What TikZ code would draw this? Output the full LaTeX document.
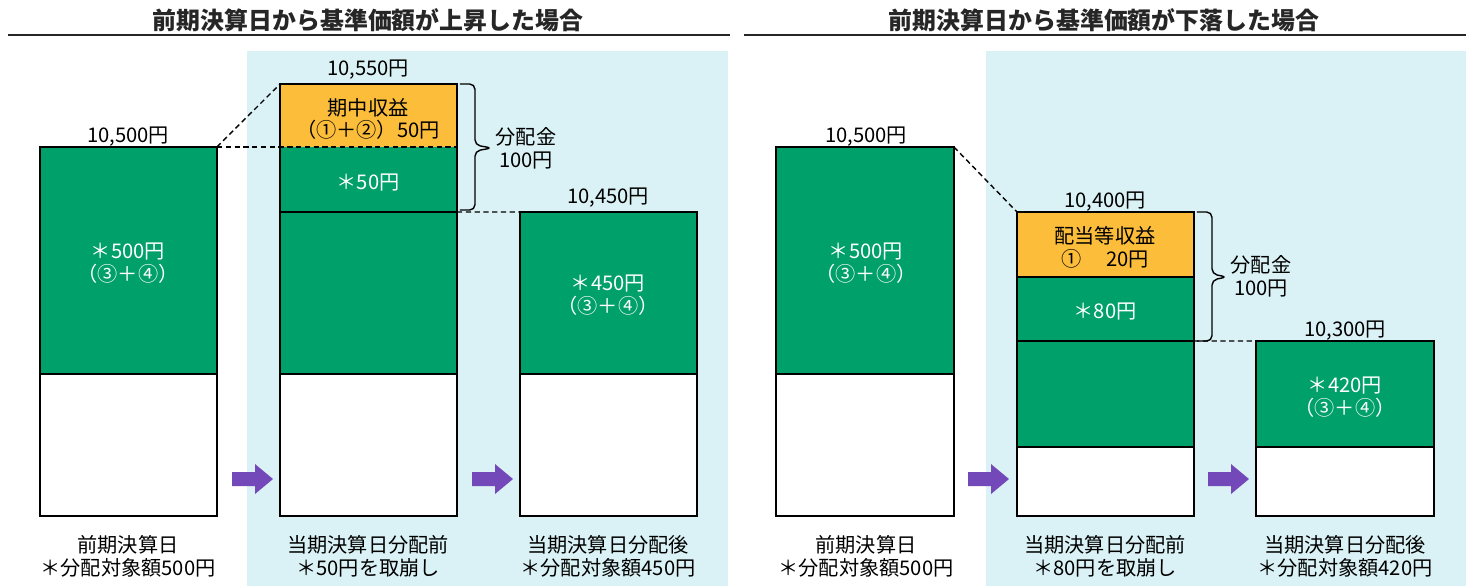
\documentclass[tikz,border=0pt]{standalone}
\usepackage{fontspec}
\setmainfont{Noto Sans CJK JP}

\definecolor{barGreen}{RGB}{0,160,107}
\definecolor{barOrange}{RGB}{251,189,58}
\definecolor{panelBlue}{RGB}{218,242,245}
\definecolor{arrowPurple}{RGB}{115,73,186}
\definecolor{titleGray}{RGB}{38,38,38}

\tikzset{
  blk/.style={anchor=north west, inner sep=0pt, outer sep=0pt, minimum width=3.54cm},
  gblk/.style={blk, fill=barGreen},
  oblk/.style={blk, fill=barOrange},
  wblk/.style={blk, fill=white},
  txt/.style={font=\fontsize{11.5}{13}\selectfont, inner sep=0pt, align=center},
  wtxt/.style={txt, text=white},
  ttl/.style={font=\fontsize{13.6}{16}\selectfont\bfseries, text=titleGray, inner sep=0pt},
  bord/.style={line width=1pt},
  lnk/.style={line width=0.8pt, dash pattern=on 3pt off 2pt},
  brc/.style={line width=0.8pt, rounded corners=3pt},
}

\begin{document}
\begin{tikzpicture}[x=0.02cm, y=-0.02cm]
    \useasboundingbox (0,0) rectangle (1472,586);

    % titles and rules
    \node[ttl] (upTitle) at (368,20) {前期決算日から基準価額が上昇した場合};
    \node[ttl] (dnTitle) at (1104,20) {前期決算日から基準価額が下落した場合};
    \draw[line width=0.9pt, titleGray] (8,35) -- (730,35);
    \draw[line width=0.9pt, titleGray] (744,35) -- (1466,35);

    % light blue panels
    \fill[panelBlue] (247,51) rectangle (728,586);
    \fill[panelBlue] (986,51) rectangle (1466,586);

    % ---- rise case ----
    \node[gblk, minimum height=4.54cm] (upPrevG) at (40,147) {};
    \node[wblk, minimum height=2.84cm] (upPrevW) at (40,374) {};
    \node[oblk, minimum height=1.26cm] (upBefInc) at (280,84) {};
    \node[gblk, minimum height=1.30cm] (upBefCut) at (280,147) {};
    \node[gblk, minimum height=3.24cm] (upBefRest) at (280,212) {};
    \node[wblk, minimum height=2.84cm] (upBefW) at (280,374) {};
    \node[gblk, minimum height=3.24cm] (upAftG) at (520,212) {};
    \node[wblk, minimum height=2.84cm] (upAftW) at (520,374) {};

    \draw[bord] (upPrevG.north west) rectangle (upPrevW.south east);
    \draw[bord] (upPrevW.north west) -- (upPrevW.north east);
    \draw[bord] (upBefInc.north west) rectangle (upBefW.south east);
    \draw[bord] (upBefRest.north west) -- (upBefRest.north east);
    \draw[bord] (upBefW.north west) -- (upBefW.north east);
    \draw[bord] (upAftG.north west) rectangle (upAftW.south east);
    \draw[bord] (upAftW.north west) -- (upAftW.north east);

    \draw[lnk] (upPrevG.north east) -- (upBefInc.north west);
    \draw[lnk] (upPrevG.north east) -- (upBefCut.north east);
    \draw[lnk] (upBefCut.south east) -- (upAftG.north west);
    % brace
    \draw[brc] ([xshift=0.06cm]upBefInc.north east) -- ++(15,0) -- ++(0,61) -- ++(17,3)
      -- ++(-17,3) -- ++(0,59) -- ++(-15,0);

    \node[txt] (upPrevVal) at (128,137) {10,500円};
    \node[txt] (upBefVal) at (368,70) {10,550円};
    \node[txt] (upAftVal) at (608,198) {10,450円};
    \node[wtxt] (upPrevTxt) at (128,263) {＊500円\\（③＋④）};
    \node[txt] (upIncTxt) at (368,119) {期中収益\\（①＋②）50円};
    \node[wtxt] (upCutTxt) at (368,183) {＊50円};
    \node[wtxt] (upAftTxt) at (608,295) {＊450円\\（③＋④）};
    \node[txt] (upDist) at (526,148) {分配金\\100円};
    \node[txt] (upPrevCap) at (128,556) {前期決算日\\＊分配対象額500円};
    \node[txt] (upBefCap) at (368,556) {当期決算日分配前\\＊50円を取崩し};
    \node[txt] (upAftCap) at (608,556) {当期決算日分配後\\＊分配対象額450円};

    % ---- fall case ----
    \node[gblk, minimum height=4.54cm, minimum width=3.56cm] (dnPrevG) at (776,147) {};
    \node[wblk, minimum height=2.84cm, minimum width=3.56cm] (dnPrevW) at (776,374) {};
    \node[oblk, minimum height=1.30cm] (dnBefInc) at (1017,212) {};
    \node[gblk, minimum height=1.28cm] (dnBefCut) at (1017,277) {};
    \node[gblk, minimum height=2.12cm] (dnBefRest) at (1017,341) {};
    \node[wblk, minimum height=1.38cm] (dnBefW) at (1017,447) {};
    \node[gblk, minimum height=2.12cm, minimum width=3.56cm] (dnAftG) at (1256,341) {};
    \node[wblk, minimum height=1.38cm, minimum width=3.56cm] (dnAftW) at (1256,447) {};

    \draw[bord] (dnPrevG.north west) rectangle (dnPrevW.south east);
    \draw[bord] (dnPrevW.north west) -- (dnPrevW.north east);
    \draw[bord] (dnBefInc.north west) rectangle (dnBefW.south east);
    \draw[bord] (dnBefCut.north west) -- (dnBefCut.north east);
    \draw[bord] (dnBefRest.north west) -- (dnBefRest.north east);
    \draw[bord] (dnBefW.north west) -- (dnBefW.north east);
    \draw[bord] (dnAftG.north west) rectangle (dnAftW.south east);
    \draw[bord] (dnAftW.north west) -- (dnAftW.north east);

    \draw[lnk] (dnPrevG.north east) -- (dnBefInc.north west);
    \draw[lnk] (dnBefCut.south east) -- (dnAftG.north west);
    % brace
    \draw[brc] ([xshift=0.06cm]dnBefInc.north east) -- ++(15,0) -- ++(0,62) -- ++(15,3)
      -- ++(-15,3) -- ++(0,61) -- ++(-15,0);

    \node[txt] (dnPrevVal) at (866,137) {10,500円};
    \node[txt] (dnBefVal) at (1105,202) {10,400円};
    \node[txt] (dnAftVal) at (1345,331) {10,300円};
    \node[wtxt] (dnPrevTxt) at (866,263) {＊500円\\（③＋④）};
    \node[txt] (dnIncTxt) at (1105,247) {配当等収益\\①　 20円};
    \node[wtxt] (dnCutTxt) at (1105,312) {＊80円};
    \node[wtxt] (dnAftTxt) at (1345,397) {＊420円\\（③＋④）};
    \node[txt] (dnDist) at (1261,276) {分配金\\100円};
    \node[txt] (dnPrevCap) at (866,556) {前期決算日\\＊分配対象額500円};
    \node[txt] (dnBefCap) at (1105,556) {当期決算日分配前\\＊80円を取崩し};
    \node[txt] (dnAftCap) at (1345,556) {当期決算日分配後\\＊分配対象額420円};

    % purple step arrows
    \foreach \ax in {232,472,968,1208}
      \fill[arrowPurple] (\ax,472) -- (\ax+23,472) -- (\ax+23,464) -- (\ax+41,479)
        -- (\ax+23,494) -- (\ax+23,486) -- (\ax,486) -- cycle;
\end{tikzpicture}
\end{document}
